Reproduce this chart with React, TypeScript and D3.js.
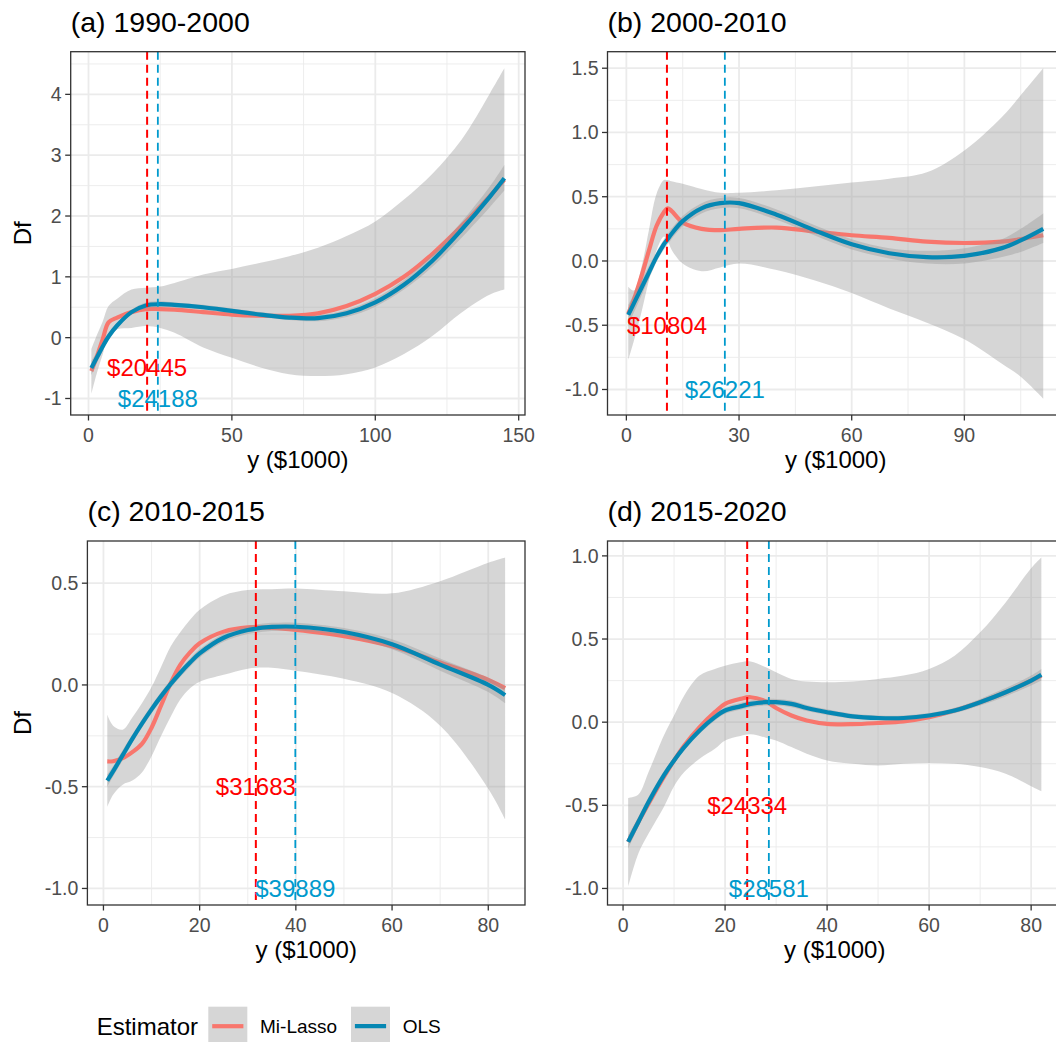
import React from "react";
import * as d3 from "d3";

// ---------- data ----------
const aX = [1, 3, 5, 7, 10, 15, 20, 25, 30, 40, 50, 60, 70, 80, 90, 100, 110, 120, 130, 140, 145];
const aMi = [-0.55, -0.3, -0.02, 0.25, 0.33, 0.42, 0.47, 0.47, 0.46, 0.42, 0.38, 0.36, 0.36, 0.4, 0.52, 0.72, 1.0, 1.38, 1.83, 2.33, 2.6];
const aOls = [-0.5, -0.32, -0.14, 0.02, 0.2, 0.42, 0.53, 0.55, 0.54, 0.5, 0.44, 0.38, 0.33, 0.32, 0.4, 0.58, 0.87, 1.27, 1.77, 2.32, 2.62];
const aMiLo = [-0.93, -0.57, -0.27, 0.03, 0.14, 0.16, 0.19, 0.16, 0.08, -0.16, -0.33, -0.49, -0.6, -0.63, -0.6, -0.49, -0.27, 0.03, 0.41, 0.71, 0.79];
const aMiHi = [-0.19, 0.05, 0.27, 0.52, 0.64, 0.79, 0.82, 0.84, 0.9, 1.04, 1.13, 1.23, 1.34, 1.48, 1.67, 1.91, 2.27, 2.7, 3.25, 4.02, 4.43];
const aOlsLo = [-0.62, -0.41, -0.21, -0.04, 0.15, 0.38, 0.48, 0.5, 0.5, 0.46, 0.4, 0.34, 0.29, 0.27, 0.34, 0.51, 0.79, 1.17, 1.64, 2.15, 2.42];
const aOlsHi = [-0.38, -0.23, -0.07, 0.08, 0.25, 0.46, 0.58, 0.6, 0.58, 0.54, 0.48, 0.42, 0.37, 0.37, 0.46, 0.65, 0.95, 1.37, 1.9, 2.49, 2.84];

const bX = [0.5, 2, 4, 6, 8, 10, 11, 12, 15, 20, 25, 30, 40, 50, 60, 70, 80, 90, 100, 105, 111];
const bMi = [-0.41, -0.3, -0.12, 0.08, 0.27, 0.38, 0.41, 0.39, 0.3, 0.25, 0.24, 0.25, 0.26, 0.23, 0.2, 0.18, 0.15, 0.14, 0.15, 0.17, 0.2];
const bOls = [-0.42, -0.33, -0.21, -0.09, 0.03, 0.13, 0.17, 0.21, 0.31, 0.41, 0.45, 0.45, 0.36, 0.24, 0.13, 0.06, 0.03, 0.04, 0.1, 0.16, 0.25];
const bMiLo = [-0.77, -0.62, -0.4, -0.15, 0.08, 0.19, 0.16, 0.09, -0.02, -0.08, -0.05, -0.02, -0.07, -0.15, -0.25, -0.37, -0.48, -0.61, -0.8, -0.9, -1.07];
const bMiHi = [-0.2, -0.23, -0.05, 0.24, 0.52, 0.63, 0.63, 0.62, 0.6, 0.56, 0.53, 0.53, 0.55, 0.58, 0.61, 0.64, 0.69, 0.86, 1.12, 1.29, 1.5];
const bOlsLo = [-0.5, -0.4, -0.27, -0.14, -0.01, 0.09, 0.13, 0.17, 0.27, 0.37, 0.41, 0.41, 0.32, 0.2, 0.09, 0.02, -0.02, -0.02, 0.03, 0.07, 0.14];
const bOlsHi = [-0.34, -0.26, -0.15, -0.04, 0.07, 0.17, 0.21, 0.25, 0.35, 0.45, 0.49, 0.49, 0.4, 0.28, 0.17, 0.1, 0.08, 0.1, 0.17, 0.25, 0.37];

const cX = [0.8, 2, 4, 6, 8, 10, 12, 14, 16, 18, 20, 25, 30, 35, 40, 50, 60, 70, 80, 83.5];
const cMi = [-0.376, -0.375, -0.36, -0.33, -0.29, -0.21, -0.1, 0.01, 0.1, 0.16, 0.205, 0.262, 0.283, 0.28, 0.27, 0.24, 0.19, 0.11, 0.025, -0.016];
const cOls = [-0.47, -0.425, -0.345, -0.265, -0.19, -0.12, -0.055, 0.005, 0.06, 0.11, 0.155, 0.232, 0.27, 0.285, 0.286, 0.26, 0.2, 0.1, 0.0, -0.05];
const cMiLo = [-0.6, -0.54, -0.49, -0.47, -0.43, -0.35, -0.25, -0.155, -0.07, -0.016, 0.016, 0.05, 0.08, 0.085, 0.07, 0.03, -0.04, -0.2, -0.51, -0.66];
const cMiHi = [-0.147, -0.2, -0.22, -0.16, -0.09, -0.01, 0.09, 0.19, 0.26, 0.32, 0.37, 0.44, 0.466, 0.47, 0.474, 0.46, 0.45, 0.51, 0.6, 0.626];
const cOlsLo = [-0.5, -0.45, -0.37, -0.285, -0.21, -0.14, -0.075, -0.015, 0.04, 0.09, 0.135, 0.212, 0.25, 0.265, 0.266, 0.24, 0.175, 0.07, -0.035, -0.09];
const cOlsHi = [-0.44, -0.4, -0.32, -0.245, -0.17, -0.1, -0.035, 0.025, 0.08, 0.13, 0.175, 0.252, 0.29, 0.305, 0.306, 0.28, 0.225, 0.13, 0.035, -0.01];

const dX = [1, 3, 5, 8, 10, 12, 15, 18, 20, 23, 25, 28, 30, 33, 36, 40, 45, 50, 55, 60, 65, 70, 75, 80, 82];
const dMi = [-0.72, -0.6, -0.49, -0.33, -0.23, -0.14, -0.03, 0.06, 0.11, 0.14, 0.15, 0.125, 0.085, 0.04, 0.01, -0.01, -0.012, -0.005, 0.005, 0.03, 0.07, 0.12, 0.18, 0.25, 0.28];
const dOls = [-0.72, -0.6, -0.48, -0.32, -0.23, -0.15, -0.05, 0.03, 0.07, 0.095, 0.11, 0.12, 0.12, 0.11, 0.085, 0.06, 0.035, 0.025, 0.025, 0.04, 0.07, 0.12, 0.18, 0.25, 0.285];
const dMiLo = [-0.99, -0.79, -0.67, -0.51, -0.385, -0.3, -0.22, -0.16, -0.11, -0.083, -0.073, -0.093, -0.11, -0.15, -0.19, -0.23, -0.25, -0.26, -0.25, -0.245, -0.25, -0.27, -0.31, -0.385, -0.415];
const dMiHi = [-0.456, -0.435, -0.3, -0.08, 0.04, 0.16, 0.28, 0.32, 0.34, 0.36, 0.365, 0.33, 0.3, 0.26, 0.244, 0.24, 0.244, 0.26, 0.28, 0.32, 0.4, 0.54, 0.72, 0.925, 0.99];
const dOlsLo = [-0.76, -0.63, -0.51, -0.345, -0.25, -0.17, -0.07, 0.01, 0.05, 0.075, 0.09, 0.1, 0.1, 0.09, 0.067, 0.043, 0.02, 0.01, 0.01, 0.025, 0.053, 0.1, 0.155, 0.22, 0.25];
const dOlsHi = [-0.68, -0.57, -0.45, -0.295, -0.21, -0.13, -0.03, 0.05, 0.09, 0.115, 0.13, 0.14, 0.14, 0.13, 0.103, 0.077, 0.05, 0.04, 0.04, 0.055, 0.087, 0.14, 0.205, 0.28, 0.32];

const titles = ["(a) 1990-2000", "(b) 2000-2010", "(c) 2010-2015", "(d) 2015-2020"];
const thresholdsMi = [20445, 10804, 31683, 24334];
const thresholdsOls = [24188, 26221, 39889, 28581];
const labelYMi = -0.5;
const labelYOls = -1;
const xTicksA = [0, 50, 100, 150];
const xTicksB = [0, 30, 60, 90];
const xTicksCD = [0, 20, 40, 60, 80];
const yTicksA = [-1, 0, 1, 2, 3, 4];
const yTicksB = [-1, -0.5, 0, 0.5, 1, 1.5];
const yTicksC = [-1, -0.5, 0, 0.5];
const yTicksD = [-1, -0.5, 0, 0.5, 1];
const legendLabels = ["Mi-Lasso", "OLS"];

// ---------- styles ----------
const FONT = "'Liberation Sans', Arial, Helvetica, sans-serif";
const MI_COLOR = "#F8766D";
const OLS_COLOR = "#0587B3";
const MI_VCOLOR = "#FF0000";
const OLS_VCOLOR = "#009ACD";
const GRID = "#EBEBEB";
const BORDER = "#333333";

type PanelSpec = {
  title: string;
  x: number[]; mi: number[]; ols: number[];
  miLo: number[]; miHi: number[]; olsLo: number[]; olsHi: number[];
  xTicks: number[]; yTicks: number[]; yFmt: (v: number) => string;
  vMi: number; vOls: number;
  box: { left: number; right: number; top: number; bottom: number };
  yTitle: boolean;
};

const fmtInt = (v: number) => String(v);
const fmt1 = (v: number) => v.toFixed(1);

const panels: PanelSpec[] = [
  { title: titles[0], x: aX, mi: aMi, ols: aOls, miLo: aMiLo, miHi: aMiHi, olsLo: aOlsLo, olsHi: aOlsHi,
    xTicks: xTicksA, yTicks: yTicksA, yFmt: fmtInt, vMi: thresholdsMi[0], vOls: thresholdsOls[0],
    box: { left: 70.7, right: 525, top: 51.7, bottom: 415 }, yTitle: true },
  { title: titles[1], x: bX, mi: bMi, ols: bOls, miLo: bMiLo, miHi: bMiHi, olsLo: bOlsLo, olsHi: bOlsHi,
    xTicks: xTicksB, yTicks: yTicksB, yFmt: fmt1, vMi: thresholdsMi[1], vOls: thresholdsOls[1],
    box: { left: 607.5, right: 1064, top: 51.7, bottom: 415 }, yTitle: false },
  { title: titles[2], x: cX, mi: cMi, ols: cOls, miLo: cMiLo, miHi: cMiHi, olsLo: cOlsLo, olsHi: cOlsHi,
    xTicks: xTicksCD, yTicks: yTicksC, yFmt: fmt1, vMi: thresholdsMi[2], vOls: thresholdsOls[2],
    box: { left: 87.4, right: 525, top: 541, bottom: 905 }, yTitle: true },
  { title: titles[3], x: dX, mi: dMi, ols: dOls, miLo: dMiLo, miHi: dMiHi, olsLo: dOlsLo, olsHi: dOlsHi,
    xTicks: xTicksCD, yTicks: yTicksD, yFmt: fmt1, vMi: thresholdsMi[3], vOls: thresholdsOls[3],
    box: { left: 607.5, right: 1062, top: 541, bottom: 905 }, yTitle: false },
];

function expand(lo: number, hi: number): [number, number] {
  const r = hi - lo;
  return [lo - r * 0.05, hi + r * 0.05];
}

function minors(ticks: number[], dom: [number, number]) {
  const step = ticks[1] - ticks[0];
  const out: number[] = [];
  for (let i = -1; i < ticks.length; i++) {
    const m = ticks[0] + step * i + step / 2;
    if (m >= dom[0] && m <= dom[1]) out.push(m);
  }
  return out;
}

function Panel({ p }: { p: PanelSpec }) {
  const { box } = p;
  const xDom = expand(d3.min(p.x)!, d3.max(p.x)!);
  const yLo = Math.min(d3.min(p.miLo)!, d3.min(p.olsLo)!, labelYOls, labelYMi);
  const yHi = Math.max(d3.max(p.miHi)!, d3.max(p.olsHi)!);
  const yDom = expand(yLo, yHi);
  const xs = d3.scaleLinear().domain(xDom).range([box.left, box.right]);
  const ys = d3.scaleLinear().domain(yDom).range([box.bottom, box.top]);
  const idx = p.x.map((_, i) => i);
  const curve = d3.curveCatmullRom.alpha(0.5);
  const area = (lo: number[], hi: number[]) =>
    d3.area<number>().x((i) => xs(p.x[i])).y0((i) => ys(lo[i])).y1((i) => ys(hi[i])).curve(curve)(idx) || "";
  const line = (v: number[]) =>
    d3.line<number>().x((i) => xs(p.x[i])).y((i) => ys(v[i])).curve(curve)(idx) || "";
  const xMin = minors(p.xTicks, xDom);
  const yMin = minors(p.yTicks, yDom);
  const cx = (box.left + box.right) / 2;
  const cy = (box.top + box.bottom) / 2;
  const vm = xs(p.vMi / 1000);
  const vo = xs(p.vOls / 1000);
  return (
    <g>
      <text x={box.left} y={box.top - 20} fontSize={28.5} fill="#000" fontFamily={FONT}>{p.title}</text>
      <rect x={box.left} y={box.top} width={box.right - box.left} height={box.bottom - box.top} fill="#fff" />
      {xMin.map((v) => (
        <line key={"xm" + v} x1={xs(v)} x2={xs(v)} y1={box.top} y2={box.bottom} stroke={GRID} strokeWidth={0.9} />
      ))}
      {yMin.map((v) => (
        <line key={"ym" + v} x1={box.left} x2={box.right} y1={ys(v)} y2={ys(v)} stroke={GRID} strokeWidth={0.9} />
      ))}
      {p.xTicks.map((v) => (
        <line key={"xg" + v} x1={xs(v)} x2={xs(v)} y1={box.top} y2={box.bottom} stroke={GRID} strokeWidth={1.8} />
      ))}
      {p.yTicks.map((v) => (
        <line key={"yg" + v} x1={box.left} x2={box.right} y1={ys(v)} y2={ys(v)} stroke={GRID} strokeWidth={1.8} />
      ))}
      <path d={area(p.miLo, p.miHi)} fill="#999999" fillOpacity={0.4} />
      <path d={line(p.mi)} fill="none" stroke={MI_COLOR} strokeWidth={4.2} strokeLinejoin="round" />
      <path d={area(p.olsLo, p.olsHi)} fill="#999999" fillOpacity={0.4} />
      <path d={line(p.ols)} fill="none" stroke={OLS_COLOR} strokeWidth={4.2} strokeLinejoin="round" />
      <line x1={vm} x2={vm} y1={box.top} y2={box.bottom} stroke={MI_VCOLOR} strokeWidth={2} strokeDasharray="8,5" />
      <line x1={vo} x2={vo} y1={box.top} y2={box.bottom} stroke={OLS_VCOLOR} strokeWidth={1.8} strokeDasharray="8,5" />
      <text x={vm} y={ys(labelYMi) + 8.4} fontSize={24} fill={MI_VCOLOR} textAnchor="middle" fontFamily={FONT}>
        {"$" + p.vMi}
      </text>
      <text x={vo} y={ys(labelYOls) + 8.4} fontSize={24} fill={OLS_VCOLOR} textAnchor="middle" fontFamily={FONT}>
        {"$" + p.vOls}
      </text>
      <rect x={box.left} y={box.top} width={box.right - box.left} height={box.bottom - box.top} fill="none" stroke={BORDER} strokeWidth={1.3} />
      {p.xTicks.map((v) => (
        <g key={"xt" + v}>
          <line x1={xs(v)} x2={xs(v)} y1={box.bottom} y2={box.bottom + 5.5} stroke={BORDER} strokeWidth={1.3} />
          <text x={xs(v)} y={box.bottom + 27} fontSize={19.5} fill="#4D4D4D" textAnchor="middle" fontFamily={FONT}>{fmtInt(v)}</text>
        </g>
      ))}
      {p.yTicks.map((v) => (
        <g key={"yt" + v}>
          <line x1={box.left - 5.5} x2={box.left} y1={ys(v)} y2={ys(v)} stroke={BORDER} strokeWidth={1.3} />
          <text x={box.left - 9} y={ys(v) + 7} fontSize={19.5} fill="#4D4D4D" textAnchor="end" fontFamily={FONT}>{p.yFmt(v)}</text>
        </g>
      ))}
      <text x={cx} y={box.bottom + 53} fontSize={24} fill="#000" textAnchor="middle" fontFamily={FONT}>y ($1000)</text>
      {p.yTitle && (
        <text transform={`translate(31,${cy}) rotate(-90)`} fontSize={24} fill="#000" textAnchor="middle" fontFamily={FONT}>Df</text>
      )}
    </g>
  );
}

function Legend() {
  const keyX = [208.3, 351];
  const colors = [MI_COLOR, OLS_COLOR];
  return (
    <g>
      <text x={96.7} y={1034.5} fontSize={24} fill="#000" fontFamily={FONT}>Estimator</text>
      {legendLabels.map((l, i) => (
        <g key={l}>
          <rect x={keyX[i]} y={1006.7} width={39} height={39} fill="#999999" fillOpacity={0.4} />
          <line x1={keyX[i] + 3.9} x2={keyX[i] + 35.1} y1={1026.2} y2={1026.2} stroke={colors[i]} strokeWidth={4.2} />
          <text x={keyX[i] + 51.7} y={1033.2} fontSize={19} fill="#000" fontFamily={FONT}>{l}</text>
        </g>
      ))}
    </g>
  );
}

export default function App() {
  return (
    <svg width={1056} height={1042} style={{ position: "absolute", left: 0, top: 0, background: "#fff" }}>
      <rect x={0} y={0} width={1056} height={1042} fill="#fff" />
      {panels.map((p) => (
        <Panel key={p.title} p={p} />
      ))}
      <Legend />
    </svg>
  );
}
